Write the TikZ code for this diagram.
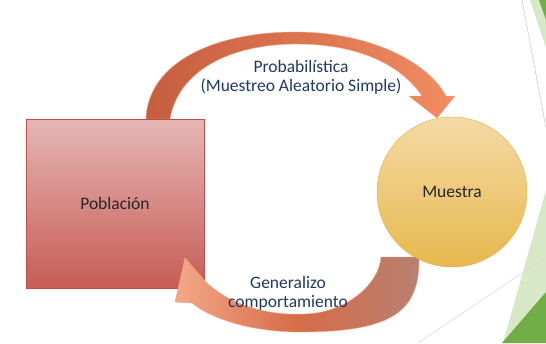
\documentclass[tikz,border=0pt]{standalone}
\usepackage{fontspec}
\setmainfont{Carlito}
\usepackage{tikz}
\usetikzlibrary{positioning}

\definecolor{tinta}{RGB}{31,56,100}
\definecolor{rojoclaro}{RGB}{230,182,180}
\definecolor{rojoosc}{RGB}{198,92,86}
\definecolor{rojoborde}{RGB}{192,80,77}
\definecolor{oroclaro}{RGB}{243,218,165}
\definecolor{orooscuro}{RGB}{232,184,78}
\definecolor{oroborde}{RGB}{224,176,60}
\definecolor{naranjaosc}{RGB}{196,94,62}
\definecolor{naranjaclaro}{RGB}{242,140,98}
\definecolor{salmon}{RGB}{244,168,138}
\definecolor{teja}{RGB}{214,108,72}
\definecolor{malva}{RGB}{184,128,114}
\definecolor{verde}{RGB}{112,173,71}
\definecolor{verdeclaro}{RGB}{216,232,198}

\begin{document}
\begin{tikzpicture}[x=1pt,y=-1pt,
		texto/.style={font=\fontsize{17.5}{19}\selectfont, align=center},
		caja/.style={draw=rojoborde, top color=rojoclaro, bottom color=rojoosc, minimum width=178pt, minimum height=169pt, texto, text=black!85},
		bola/.style={circle, draw=oroborde, top color=oroclaro, bottom color=orooscuro, minimum size=150pt, texto, text=black!85},
		etiqueta/.style={texto, text=tinta},
		flechasup/.style={draw=naranjaclaro!80, line width=0.4pt, left color=naranjaosc, right color=naranjaclaro},
		flechainf/.style={draw=naranjaclaro!80, line width=0.4pt, left color=salmon, right color=malva, middle color=teja}]
	\useasboundingbox (0,0) rectangle (546,343);
	% adorno de la esquina
	\fill[verdeclaro] (503,343) -- (546,190) -- (546,343) -- cycle;
	\fill[verde] (502,343) -- (546,292) -- (546,343) -- cycle;
	\fill[verdeclaro] (530,0) -- (546,0) -- (546,48) -- cycle;
	\fill[verde] (539,0) -- (546,0) -- (546,20) -- cycle;
	\draw[black!20, line width=0.6pt] (522,0) -- (546,128);
	\draw[black!15, line width=0.6pt] (418,343) -- (546,257);

	% flecha de ida
	\path[flechasup] (146,119) .. controls (148,62) and (215,32) .. (295,32)
		.. controls (370,32) and (428,62) .. (446,96) -- (455,96) -- (437,118) -- (409,96) -- (422,96)
		.. controls (402,66) and (360,44) .. (297,44)
		.. controls (228,44) and (178,72) .. (170,119) -- cycle;

	\node[caja] (poblacion) at (115,203.5) {Población};

	% flecha de vuelta
	\path[flechainf] (185,258) -- (206,282)
		.. controls (230,305) and (268,316) .. (305,314)
		.. controls (345,313) and (379,285) .. (381,257) -- (419,257)
		.. controls (420,310) and (395,332) .. (300,332)
		.. controls (250,332) and (210,318) .. (192,303) -- (175,302) -- cycle;

	\node[bola] (muestra) at (452,192) {Muestra};

	\node[etiqueta] (tipo) at (301,77.5) {Probabilística\\(Muestreo Aleatorio Simple)};
	\node[etiqueta] (inferencia) at (288,293.5) {Generalizo\\comportamiento};
\end{tikzpicture}
\end{document}
